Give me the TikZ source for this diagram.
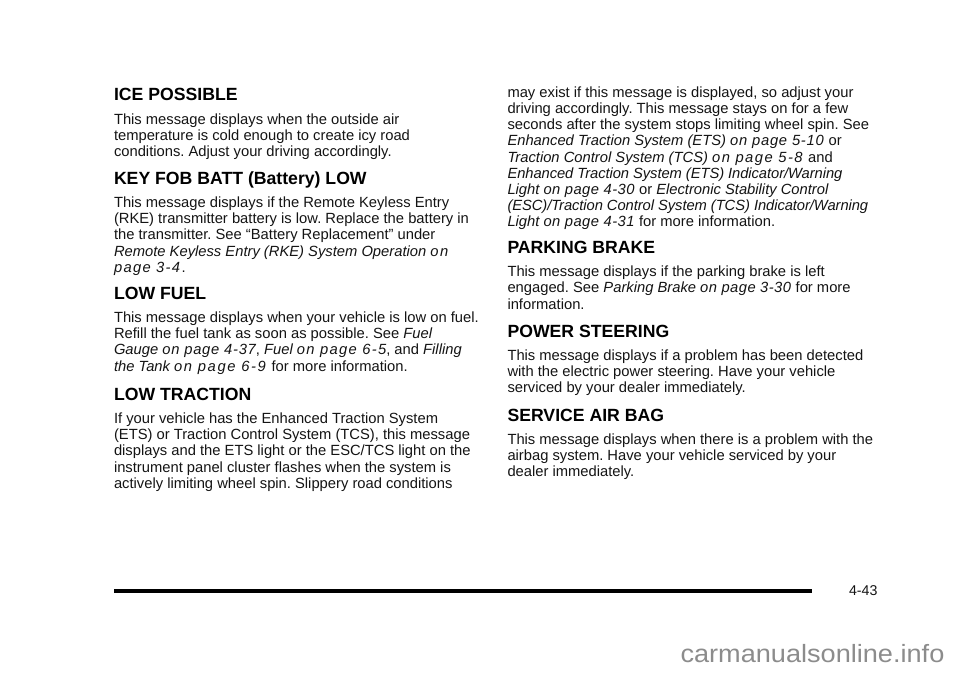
\documentclass[tikz,border=0pt]{standalone}
\usepackage{fontspec}
\setmainfont{Liberation Sans}
\newfontfamily\wmfont[FakeStretch=1.085]{Liberation Sans}
\newcounter{ln}
\frenchspacing
\tikzset{
 bodyline/.style={anchor=base west,inner sep=0pt,outer sep=0pt,font=\fontsize{14.75}{16}\selectfont,text=black!92},
 headline/.style={anchor=base west,inner sep=0pt,outer sep=0pt,font=\fontsize{17.65}{20}\bfseries\selectfont,text=black},
 footline/.style={anchor=base west,inner sep=0pt,outer sep=0pt,font=\fontsize{14.2}{15}\selectfont,text=black!92},
 wmark/.style={anchor=base west,inner sep=0pt,outer sep=0pt,font=\wmfont\fontsize{25}{26}\selectfont,text=black!45},
 rulebar/.style={line width=3.6pt,black}
}
\newcommand{\tl}[3]{\stepcounter{ln}\node[bodyline] (t\theln) at (#1,#2) {#3};}
\newcommand{\hd}[3]{\stepcounter{ln}\node[headline] (t\theln) at (#1,#2) {#3};}
\newcommand{\sps}[2]{{\addfontfeature{LetterSpace=#1}#2}}
\begin{document}
\begin{tikzpicture}[x=1pt,y=-1pt]
\useasboundingbox (0,0) rectangle (960,672);
\fill[white] (0,0) rectangle (960,672);
% left column
\hd{114}{100.7}{ICE POSSIBLE}
\tl{114}{124}{This message displays when the outside air}
\tl{114}{140}{temperature is cold enough to create icy road}
\tl{114}{156.5}{conditions. Adjust your driving accordingly.}
\hd{114}{184}{KEY FOB BATT (Battery) LOW}
\tl{114}{207}{This message displays if the Remote Keyless Entry}
\tl{114}{223.3}{(RKE) transmitter battery is low. Replace the battery in}
\tl{114}{239.5}{the transmitter. See “Battery Replacement” under}
\tl{114}{256}{\textit{Remote Keyless Entry (RKE) System Operation \sps{11}{on}}}
\tl{114}{272}{\textit{\sps{9}{page 3-4}}\sps{9}{.}}
\hd{114}{299}{LOW FUEL}
\tl{114}{322}{This message displays when your vehicle is low on fuel.}
\tl{114}{338.3}{Refill the fuel tank as soon as possible. See \textit{Fuel}}
\tl{114}{354.7}{\textit{Gauge \sps{5}{on page 4-37}}, \textit{Fuel \sps{9}{on page 6-5}}, and \textit{Filling}}
\tl{114}{371}{\textit{the Tank \sps{11}{on page 6-9}} for more information.}
\hd{114}{400}{LOW TRACTION}
\tl{114}{423}{If your vehicle has the Enhanced Traction System}
\tl{114}{439.3}{(ETS) or Traction Control System (TCS), this message}
\tl{114}{455.6}{displays and the ETS light or the ESC/TCS light on the}
\tl{114}{472}{instrument panel cluster flashes when the system is}
\tl{114}{488}{actively limiting wheel spin. Slippery road conditions}
% right column
\tl{507.5}{97.3}{may exist if this message is displayed, so adjust your}
\tl{507.5}{113.5}{driving accordingly. This message stays on for a few}
\tl{507.5}{129.7}{seconds after the system stops limiting wheel spin. See}
\tl{507.5}{145.9}{\textit{Enhanced Traction System (ETS) \sps{5}{on page 5-10}} or}
\tl{507.5}{162}{\textit{Traction Control System (TCS) \sps{10}{on page 5-8}} and}
\tl{507.5}{178.2}{\sps{-0.5}{\textit{Enhanced Traction System (ETS) Indicator/Warning}}}
\tl{507.5}{194.4}{\textit{Light \sps{3}{on page 4-30}} or \textit{Electronic Stability Control}}
\tl{507.5}{210.6}{\sps{-0.5}{\textit{(ESC)/Traction Control System (TCS) Indicator/Warning}}}
\tl{507.5}{226.8}{\textit{Light \sps{3}{on page 4-31}} for more information.}
\hd{507.5}{253.5}{PARKING BRAKE}
\tl{507.5}{276.5}{This message displays if the parking brake is left}
\tl{507.5}{292.7}{engaged. See \textit{Parking Brake \sps{3}{on page 3-30}} for more}
\tl{507.5}{309}{information.}
\hd{507.5}{337.5}{POWER STEERING}
\tl{507.5}{360}{This message displays if a problem has been detected}
\tl{507.5}{376.3}{with the electric power steering. Have your vehicle}
\tl{507.5}{392.5}{serviced by your dealer immediately.}
\hd{507.5}{421}{SERVICE AIR BAG}
\tl{507.5}{444}{This message displays when there is a problem with the}
\tl{507.5}{460.2}{airbag system. Have your vehicle serviced by your}
\tl{507.5}{476.5}{dealer immediately.}
% footer
\coordinate (ruleL) at (114,590.7);
\coordinate (ruleR) at (812,590.7);
\draw[rulebar] (ruleL) -- (ruleR);
\node[footline] (pageno) at (849,595.7) {4-43};
\node[wmark] (wm) at (680.5,662.7) {carmanualsonline.info};
\end{tikzpicture}
\end{document}
